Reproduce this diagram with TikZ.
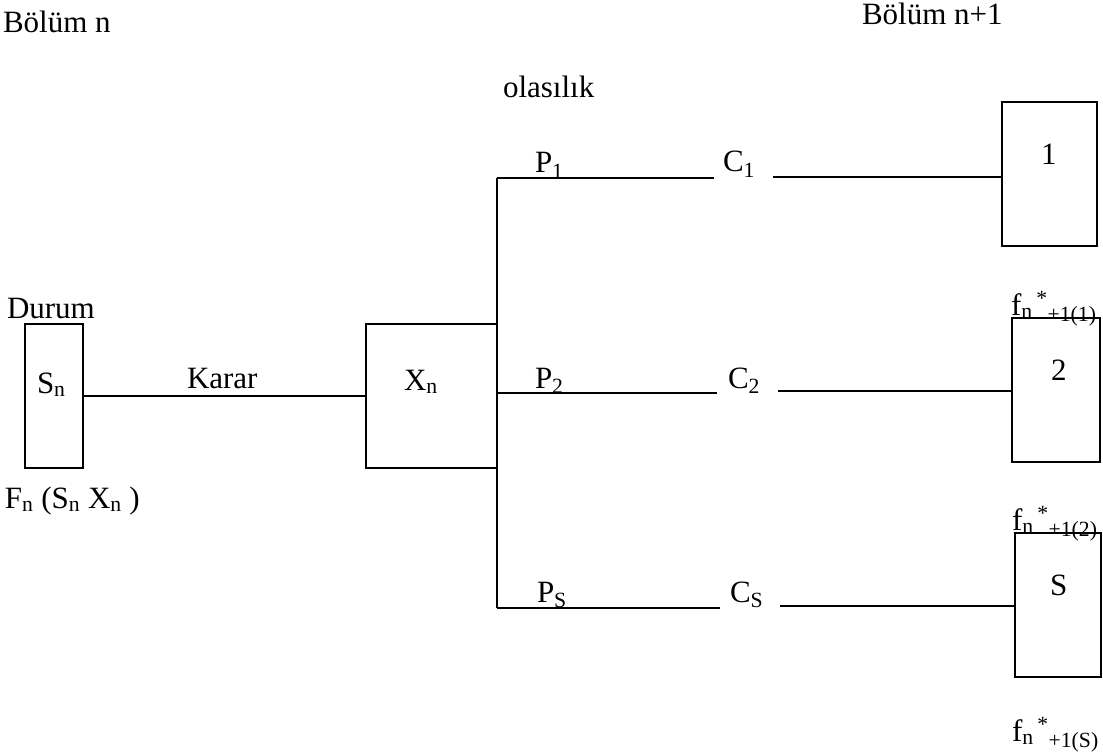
\documentclass[tikz,border=0pt]{standalone}
\usepackage{fontspec}
\setmainfont{Liberation Serif}
\begin{document}
\begin{tikzpicture}[x=1pt,y=-1pt,
  lbl/.style={inner sep=0pt, outer sep=0pt, anchor=base west, font=\fontsize{31}{36}\selectfont},
  stage/.style={draw, line width=1.4pt, inner sep=0pt, outer sep=0pt, minimum height=144pt},
  link/.style={line width=1.4pt}]
\useasboundingbox (0,0) rectangle (1103,754);

% headings
\node[lbl] (bn)  at (3,33)   {Bölüm n};
\node[lbl] (bn1) at (862,25) {Bölüm n+1};
\node[lbl] (ol)  at (503,98) {olasılık};
\node[lbl] (du)  at (7,318)  {Durum};

% state and decision boxes
\node[stage, minimum width=58pt]  (sn) at (54,396)   {};
\node[stage, minimum width=131pt] (xn) at (431.5,396) {};
\node[lbl] (snt) at (37,393)  {S\textsubscript{n}};
\node[lbl] (xnt) at (404,390) {X\textsubscript{n}};
\node[lbl] (kar) at (187,388) {Karar};
\node[lbl] (fn)  at (5,508)   {F\textsubscript{n} (S\textsubscript{n} X\textsubscript{n} )};

% boxes of the next stage
\node[stage, minimum width=95pt] (b1) at (1049.5,174) {};
\node[stage, minimum width=88pt] (b2) at (1056,390)   {};
\node[stage, minimum width=86pt] (bs) at (1058,605)   {};
\node[lbl] (b1t) at (1041,165) {1};
\node[lbl] (b2t) at (1051,380) {2};
\node[lbl] (bst) at (1050,595) {S};

% values of the next stage
\node[lbl] (f1) at (1011,315) {f\textsubscript{n}\textsuperscript{\,*}\textsubscript{+1(1)}};
\node[lbl] (f2) at (1012,530) {f\textsubscript{n}\textsuperscript{\,*}\textsubscript{+1(2)}};
\node[lbl] (fs) at (1012,741) {f\textsubscript{n}\textsuperscript{\,*}\textsubscript{+1(S)}};

% probabilities and returns
\node[lbl] (p1) at (535,173) {P\textsubscript{1}};
\node[lbl] (p2) at (535,388) {P\textsubscript{2}};
\node[lbl] (ps) at (537,602) {P\textsubscript{S}};
\node[lbl] (c1) at (723,172) {C\textsubscript{1}};
\node[lbl] (c2) at (728,388) {C\textsubscript{2}};
\node[lbl] (cs) at (730,602) {C\textsubscript{S}};

% branch points
\coordinate (t1) at (497,178);
\coordinate (ts) at (497,608);
\coordinate (e1) at (714,178);
\coordinate (e2) at (717,393);
\coordinate (es) at (720,608);
\coordinate (s1) at (773,177);
\coordinate (s2) at (778,391);
\coordinate (ss) at (780,606);

\draw[link] (sn.east) -- (xn.west);
\draw[link] (t1) -- (ts);
\draw[link] (t1) -- (e1);
\draw[link] (xn.east |- e2) -- (e2);
\draw[link] (ts) -- (es);
\draw[link] (s1) -- (s1 -| b1.west);
\draw[link] (s2) -- (s2 -| b2.west);
\draw[link] (ss) -- (ss -| bs.west);
\end{tikzpicture}
\end{document}
